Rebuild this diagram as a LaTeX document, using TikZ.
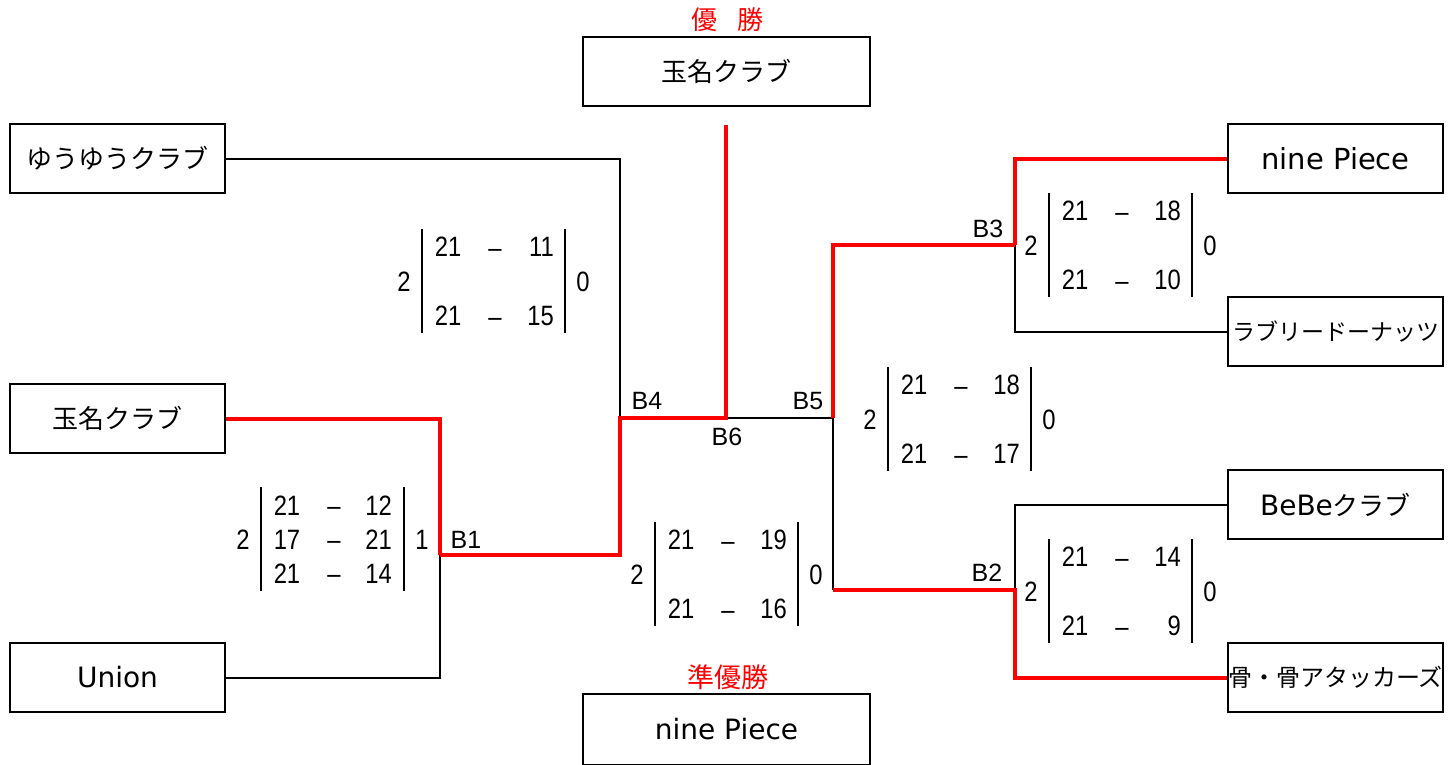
\documentclass[tikz,border=0pt]{standalone}
\usepackage{fontspec}
\newfontfamily\jp{Noto Sans CJK JP}
\newfontfamily\lat{DejaVu Sans}
\newfontfamily\labf{Liberation Sans}
\newfontfamily\numf[FakeStretch=0.85]{Liberation Sans}
\tikzset{
  box/.style={draw, line width=2pt, minimum width=215pt, minimum height=69pt, inner sep=0pt, font=\jp\fontsize{26}{30}\selectfont},
  bigbox/.style={box, minimum width=287pt},
  blk/.style={line width=2pt, draw=black},
  win/.style={line width=4pt, draw=red, line join=miter},
  sc/.style={font=\numf\fontsize{28}{30}\selectfont, inner sep=0pt, text height=20pt, text depth=0pt},
  bar/.style={line width=2pt},
  blab/.style={font=\labf\fontsize{25}{28}\selectfont, inner sep=0pt},
  redlab/.style={font=\jp\fontsize{26}{30}\selectfont, text=red, inner sep=0pt},
}
\newcommand\dsh{\raisebox{-0.5pt}{–}}
% #1 name, #2 left bar x, #3 top y, #4 left total, #5 right total, #6-#9 game scores
\newcommand\scoretwo[9]{%
  \draw[bar] (#2,#3) -- ++(0,104);
  \draw[bar] (#2+143,#3) -- ++(0,104);
  \node[sc] (#1L) at (#2-18,#3+52) {#4};
  \node[sc] (#1R) at (#2+161,#3+52) {#5};
  \node[sc] (#1a) at (#2+26,#3+17.5) {#6};
  \node[sc] (#1d) at (#2+73,#3+17.5) {\dsh};
  \node[sc,anchor=east] (#1b) at (#2+132,#3+17.5) {#7};
  \node[sc] (#1c) at (#2+26,#3+86.5) {#8};
  \node[sc] (#1e) at (#2+73,#3+86.5) {\dsh};
  \node[sc,anchor=east] (#1f) at (#2+132,#3+86.5) {#9};
}
\begin{document}
\begin{tikzpicture}[x=1pt,y=-1pt]
\useasboundingbox (0,0) rectangle (1456,764);

% team boxes
\node[box] (yy) at (117.5,158.5) {ゆうゆうクラブ};
\node[box] (tl) at (117.5,418.5) {玉名クラブ};
\node[box] (un) at (117.5,677.5) {\lat\fontsize{28}{30}\selectfont Union};
\node[bigbox] (champ) at (726.5,71.5) {玉名クラブ};
\node[bigbox, minimum height=71pt] (runner) at (726.5,729.5) {\lat\fontsize{28}{30}\selectfont nine Piece};
\node[box] (np) at (1335.5,158.5) {\lat\fontsize{29}{30}\selectfont nine Piece};
\node[box] (ld) at (1335.5,331.5) {\fontsize{23}{28}\selectfont ラブリードーナッツ};
\node[box] (bb) at (1335.5,504.5) {{\lat\fontsize{28}{30}\selectfont BeBe}クラブ};
\node[box] (hk) at (1335.5,677.5) {\fontsize{24}{28}\selectfont 骨・骨アタッカーズ};

% titles
\node[redlab] (yu1) at (704,20) {優};
\node[redlab] (yu2) at (750,20) {勝};
\node[redlab, font=\jp\fontsize{27}{30}\selectfont] (jun) at (728,677) {準優勝};

% junctions
\coordinate (B1) at (440,555);
\coordinate (B4) at (620,418);
\coordinate (B6) at (726,418);
\coordinate (B5) at (833,418);
\coordinate (B5d) at (833,590);
\coordinate (B3) at (1015,245);
\coordinate (B2) at (1015,590);
\coordinate (top) at (726,125);

% losing paths
\draw[blk] (yy.east) -| (B4);
\draw[blk] (un.east) -| (B1);
\draw[blk] (B6) -- (B5) -- (B5d);
\draw[blk] (B3) |- (ld.west);
\draw[blk] (B2) |- (bb.west);

% winning paths
\draw[win] (tl.east) -| (B1);
\draw[win] (B1) -| (B4) -- (B6) -- (top);
\draw[win] (B5) |- (B3);
\draw[win] (B3) |- (np.west);
\draw[win] (B5d) -- (B2) |- (hk.west);

% match labels
\node[blab] (lB1) at (466,540) {B1};
\node[blab] (lB4) at (647,401) {B4};
\node[blab] (lB5) at (808,401) {B5};
\node[blab] (lB6) at (727,437) {B6};
\node[blab] (lB2) at (987,573) {B2};
\node[blab] (lB3) at (988,229) {B3};

% score blocks
\scoretwo{s4}{422}{229}{2}{0}{21}{11}{21}{15}
\scoretwo{s6}{655}{522}{2}{0}{21}{19}{21}{16}
\scoretwo{s5}{888}{367}{2}{0}{21}{18}{21}{17}
\scoretwo{s3}{1049}{193}{2}{0}{21}{18}{21}{10}
\scoretwo{s2}{1049}{539}{2}{0}{21}{14}{21}{9}

% B1 block (three games)
\draw[bar] (261,487) -- (261,591);
\draw[bar] (404,487) -- (404,591);
\node[sc] (s1L) at (243,539) {2};
\node[sc] (s1R) at (422,539) {1};
\node[sc] (s1a) at (287,505) {21};
\node[sc] (s1b) at (334,505) {\dsh};
\node[sc,anchor=east] (s1c) at (392,505) {12};
\node[sc] (s1d) at (287,539) {17};
\node[sc] (s1e) at (334,539) {\dsh};
\node[sc,anchor=east] (s1f) at (392,539) {21};
\node[sc] (s1g) at (287,573) {21};
\node[sc] (s1h) at (334,573) {\dsh};
\node[sc,anchor=east] (s1i) at (392,573) {14};
\end{tikzpicture}
\end{document}
